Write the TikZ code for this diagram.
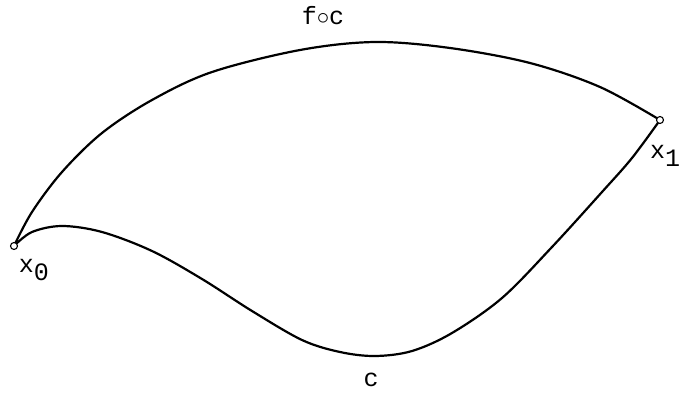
\documentclass[tikz,border=0pt]{standalone}
\usepackage{fontspec}
\newfontfamily\plotfont{Liberation Mono}
\tikzset{pnt/.style={circle, draw, fill=white, line width=1.1pt, inner sep=0pt, minimum size=7pt},
         etq/.style={font=\plotfont\fontsize{25}{25}\selectfont, inner sep=0pt}}

\begin{document}
\begin{tikzpicture}[x=1pt, y=-1pt, line width=2.2pt, line join=round]
  \useasboundingbox (0,0) rectangle (681,394);
  \coordinate (x0) at (14,246);
  \coordinate (x1) at (660,120);
  % upper curve f o c
  \draw plot[smooth, tension=0.55] coordinates {(x0) (32,212) (62,172) (102,133) (152,100) (212,72)
        (300,50) (375,42) (450,48) (530,63) (600,87) (x1)};
  % lower curve c
  \draw plot[smooth, tension=0.55] coordinates {(x0) (32,232) (62,226) (102,232) (152,251) (202,279)
        (252,311) (302,340) (340,352) (375,356) (412,351) (452,333) (502,298) (552,247) (602,192) (632,158) (x1)};
  \node[pnt] (p0) at (x0) {};
  \node[pnt] (p1) at (x1) {};
  \node[etq] (l0) at (34,270) {x\raisebox{-0.55ex}{0}};
  \node[etq] (l1) at (665,156) {x\raisebox{-0.55ex}{1}};
  \node[etq] (lfc) at (323,16) {f$\circ$c};
  \node[etq] (lc) at (371,380) {c};
\end{tikzpicture}
\end{document}
